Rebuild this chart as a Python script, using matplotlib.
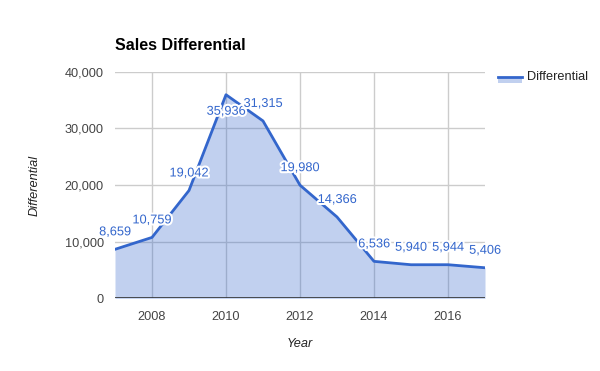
import matplotlib
matplotlib.use("Agg")
import matplotlib.pyplot as plt
import matplotlib.patheffects as pe
from matplotlib.patches import Rectangle
from matplotlib.lines import Line2D

years = [2007, 2008, 2009, 2010, 2011, 2012, 2013, 2014, 2015, 2016, 2017]
differential = [8659, 10759, 19042, 35936, 31315, 19980, 14366, 6536, 5940, 5944, 5406]
label_below = [False, False, False, True, False, False, False, False, False, False, False]
yticks = [0, 10000, 20000, 30000, 40000]
xticks = [2008, 2010, 2012, 2014, 2016]

plt.rcParams['font.family'] = ['Liberation Sans', 'DejaVu Sans']
BLUE = '#3366cc'

fig = plt.figure(figsize=(6, 3.71), dpi=100)
ax = fig.add_axes([115/600, 1-298.4/371, 370/600, 226.7/371])
ax.set_xlim(2007, 2017)
ax.set_ylim(0, 40000)

for x in xticks:
    ax.axvline(x, color='#cccccc', lw=1, zorder=0)
for y in yticks[1:]:
    ax.axhline(y, color='#cccccc', lw=1, zorder=0)

ax.fill_between(years, differential, 0, color=BLUE, alpha=0.3, lw=0, zorder=1)
ax.plot(years, differential, color=BLUE, lw=2, zorder=3, solid_joinstyle='round')
ax.axhline(0, color='#333333', lw=1.2, zorder=4)

for x, v, below in zip(years, differential, label_below):
    off = -17 if below else 17
    ax.annotate(f"{v:,}", (x, v), xytext=(0, off), textcoords='offset pixels',
                ha='center', va='center', fontsize=9.2, color=BLUE, zorder=5, annotation_clip=False,
                path_effects=[pe.withStroke(linewidth=3, foreground='white')])

ax.set_xticks(xticks)
ax.set_xticklabels([str(x) for x in xticks])
ax.set_yticks(yticks)
ax.set_yticklabels([f"{y:,}" for y in yticks])
ax.tick_params(length=0, labelsize=9.2, labelcolor='#444444')
ax.tick_params(axis='x', pad=9)
ax.tick_params(axis='y', pad=8)
for s in ax.spines.values():
    s.set_visible(False)

fig.text(115/600, 1-45/371, "Sales Differential", fontsize=11.5, fontweight='bold', color='#000000', va='center', ha='left')
fig.text(35/600, 1-185/371, "Differential", fontsize=9.2, style='italic', color='#222222', rotation=90, va='center', ha='center')
fig.text(300/600, 1-344/371, "Year", fontsize=9.2, style='italic', color='#222222', va='center', ha='center')

# legend
fig.patches.append(Rectangle((498/600, 1-83/371), 24/600, 6/371, transform=fig.transFigure,
                             facecolor=BLUE, alpha=0.3, lw=0))
fig.lines.append(Line2D([498/600, 522/600], [1-77/371, 1-77/371], transform=fig.transFigure, color=BLUE, lw=2))
fig.text(527/600, 1-77/371, "Differential", fontsize=9.2, color='#222222', va='center', ha='left')

fig.savefig("out.png", dpi=100)
